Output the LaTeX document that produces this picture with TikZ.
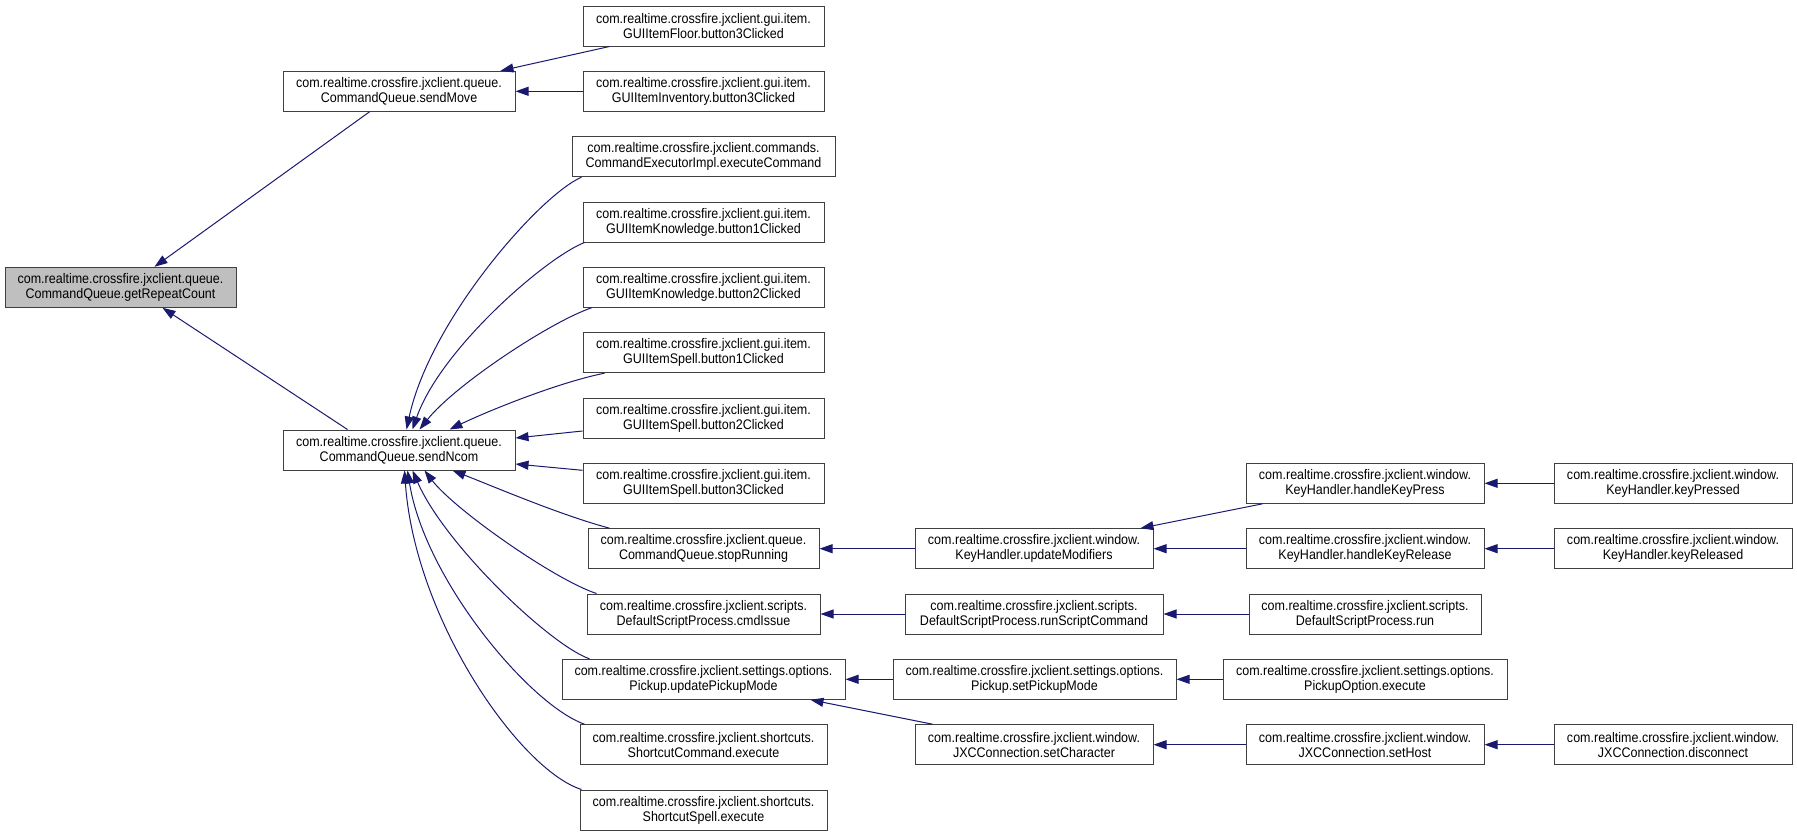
\documentclass[tikz,border=0pt]{standalone}
\usepackage{fontspec}
\setmainfont{Liberation Sans}[FakeStretch=0.9]
\usetikzlibrary{arrows.meta}
\definecolor{edgeblue}{HTML}{191970}
\definecolor{boxline}{HTML}{404040}
\definecolor{hlfill}{HTML}{BFBFBF}
\tikzset{
  fn/.style={draw=boxline, line width=1pt, fill=white, align=center, inner xsep=0pt, inner ysep=0pt,
    minimum height=40pt, font=\fontsize{13.9}{15}\selectfont},
  fnhl/.style={fn, fill=hlfill},
  edge/.style={draw=edgeblue, line width=1pt, -{Triangle[length=13pt,width=9pt]}}
}
\begin{document}
\begin{tikzpicture}[x=1pt,y=-1pt]
\useasboundingbox (0,0) rectangle (1797,836);
% column 1
\node[fnhl, minimum width=231pt] (grc) at (120.5,287.3) {com.realtime.crossfire.jxclient.queue.\\CommandQueue.getRepeatCount};
% column 2
\node[fn, minimum width=232pt] (sm) at (399,91.3) {com.realtime.crossfire.jxclient.queue.\\CommandQueue.sendMove};
\node[fn, minimum width=232pt] (sn) at (399,450) {com.realtime.crossfire.jxclient.queue.\\CommandQueue.sendNcom};
% column 3
\node[fn, minimum width=241pt] (fl) at (703.5,26) {com.realtime.crossfire.jxclient.gui.item.\\GUIItemFloor.button3Clicked};
\node[fn, minimum width=241pt] (inv) at (703.5,91.3) {com.realtime.crossfire.jxclient.gui.item.\\GUIItemInventory.button3Clicked};
\node[fn, minimum width=263pt] (ce) at (703.5,156.7) {com.realtime.crossfire.jxclient.commands.\\CommandExecutorImpl.executeCommand};
\node[fn, minimum width=241pt] (k1) at (703.5,222) {com.realtime.crossfire.jxclient.gui.item.\\GUIItemKnowledge.button1Clicked};
\node[fn, minimum width=241pt] (k2) at (703.5,287.3) {com.realtime.crossfire.jxclient.gui.item.\\GUIItemKnowledge.button2Clicked};
\node[fn, minimum width=241pt] (s1) at (703.5,352.7) {com.realtime.crossfire.jxclient.gui.item.\\GUIItemSpell.button1Clicked};
\node[fn, minimum width=241pt] (s2) at (703.5,418) {com.realtime.crossfire.jxclient.gui.item.\\GUIItemSpell.button2Clicked};
\node[fn, minimum width=241pt] (s3) at (703.5,483.3) {com.realtime.crossfire.jxclient.gui.item.\\GUIItemSpell.button3Clicked};
\node[fn, minimum width=231pt] (sr) at (703.5,548.7) {com.realtime.crossfire.jxclient.queue.\\CommandQueue.stopRunning};
\node[fn, minimum width=233pt] (ci) at (703.5,614) {com.realtime.crossfire.jxclient.scripts.\\DefaultScriptProcess.cmdIssue};
\node[fn, minimum width=283pt] (upm) at (703.5,679.3) {com.realtime.crossfire.jxclient.settings.options.\\Pickup.updatePickupMode};
\node[fn, minimum width=247pt] (sc) at (703.5,744.7) {com.realtime.crossfire.jxclient.shortcuts.\\ShortcutCommand.execute};
\node[fn, minimum width=247pt] (ss) at (703.5,810) {com.realtime.crossfire.jxclient.shortcuts.\\ShortcutSpell.execute};
% column 4
\node[fn, minimum width=238pt] (um) at (1034,548.7) {com.realtime.crossfire.jxclient.window.\\KeyHandler.updateModifiers};
\node[fn, minimum width=258pt] (rsc) at (1034,614) {com.realtime.crossfire.jxclient.scripts.\\DefaultScriptProcess.runScriptCommand};
\node[fn, minimum width=283pt] (spm) at (1034.5,679.3) {com.realtime.crossfire.jxclient.settings.options.\\Pickup.setPickupMode};
\node[fn, minimum width=238pt] (sch) at (1034,744.7) {com.realtime.crossfire.jxclient.window.\\JXCConnection.setCharacter};
% column 5
\node[fn, minimum width=238pt] (hkp) at (1365,483.3) {com.realtime.crossfire.jxclient.window.\\KeyHandler.handleKeyPress};
\node[fn, minimum width=238pt] (hkr) at (1365,548.7) {com.realtime.crossfire.jxclient.window.\\KeyHandler.handleKeyRelease};
\node[fn, minimum width=232pt] (run) at (1365,614) {com.realtime.crossfire.jxclient.scripts.\\DefaultScriptProcess.run};
\node[fn, minimum width=284pt] (poe) at (1365,679.3) {com.realtime.crossfire.jxclient.settings.options.\\PickupOption.execute};
\node[fn, minimum width=238pt] (sh) at (1365,744.7) {com.realtime.crossfire.jxclient.window.\\JXCConnection.setHost};
% column 6
\node[fn, minimum width=238pt] (kp) at (1673,483.3) {com.realtime.crossfire.jxclient.window.\\KeyHandler.keyPressed};
\node[fn, minimum width=238pt] (kr) at (1673,548.7) {com.realtime.crossfire.jxclient.window.\\KeyHandler.keyReleased};
\node[fn, minimum width=238pt] (dc) at (1673,744.7) {com.realtime.crossfire.jxclient.window.\\JXCConnection.disconnect};

% edges into getRepeatCount
\draw[edge] ([xshift=87pt]sm.south west) -- ([xshift=150pt]grc.north west);
\draw[edge] ([xshift=65pt]sn.north west) -- ([xshift=158pt]grc.south west);
% edges into sendMove
\draw[edge] ([xshift=27pt]fl.south west) -- ([xshift=-15pt]sm.north east);
\draw[edge] (inv.west) -- (sm.east);
% edges into sendNcom (top)
\draw[edge] ([xshift=10pt]ce.south west) .. controls (540,195) and (430,320) .. ([xshift=124pt]sn.north west);
\draw[edge] ([xshift=2pt]k1.south west) .. controls (545,258) and (440,350) .. ([xshift=130pt]sn.north west);
\draw[edge] ([xshift=9pt]k2.south west) .. controls (550,322) and (455,385) .. ([xshift=137pt]sn.north west);
\draw[edge] ([xshift=22pt]s1.south west) .. controls (560,382) and (490,410) .. ([xshift=167pt]sn.north west);
% side
\draw[edge] ([yshift=-13pt]s2.west) -- ([yshift=12pt]sn.east);
\draw[edge] ([yshift=13pt]s3.west) -- ([yshift=-14pt]sn.east);
% bottom
\draw[edge] ([xshift=22pt]sr.north west) .. controls (560,515) and (490,485) .. ([xshift=170pt]sn.south west);
\draw[edge] ([xshift=10pt]ci.north west) .. controls (555,580) and (455,510) .. ([xshift=142pt]sn.south west);
\draw[edge] ([xshift=28pt]upm.north west) .. controls (550,645) and (445,545) .. ([xshift=130pt]sn.south west);
\draw[edge] ([xshift=5pt]sc.north west) .. controls (530,705) and (425,580) .. ([xshift=125pt]sn.south west);
\draw[edge] ([xshift=2pt]ss.north west) .. controls (520,770) and (415,620) .. ([xshift=122pt]sn.south west);
% column 4 -> 3
\draw[edge] (um.west) -- (sr.east);
\draw[edge] (rsc.west) -- (ci.east);
\draw[edge] (spm.west) -- (upm.east);
\draw[edge] ([xshift=18pt]sch.north west) -- ([xshift=-35pt]upm.south east);
% column 5 -> 4
\draw[edge] ([xshift=17pt]hkp.south west) -- ([xshift=-13pt]um.north east);
\draw[edge] (hkr.west) -- (um.east);
\draw[edge] (run.west) -- (rsc.east);
\draw[edge] (poe.west) -- (spm.east);
\draw[edge] (sh.west) -- (sch.east);
% column 6 -> 5
\draw[edge] (kp.west) -- (hkp.east);
\draw[edge] (kr.west) -- (hkr.east);
\draw[edge] (dc.west) -- (sh.east);
\end{tikzpicture}
\end{document}
